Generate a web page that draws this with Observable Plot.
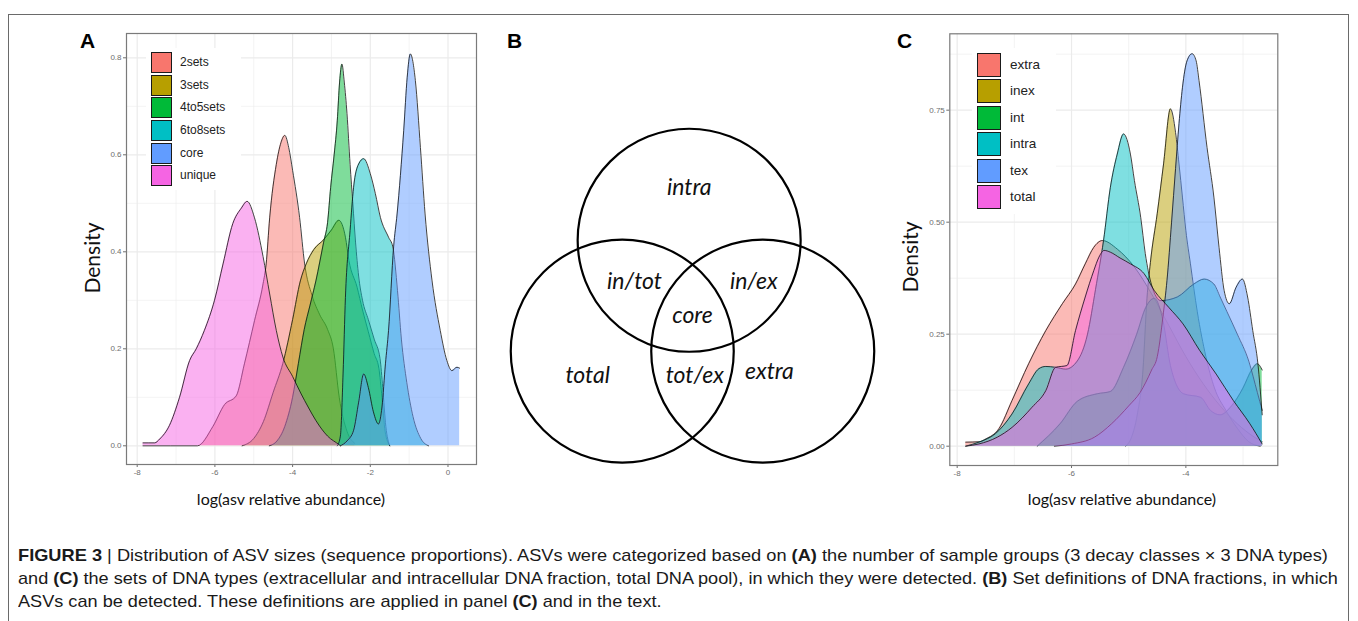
<!DOCTYPE html>
<html><head><meta charset="utf-8">
<script src="https://cdn.jsdelivr.net/npm/d3@7"></script>
<script src="https://cdn.jsdelivr.net/npm/@observablehq/plot@0.6"></script>
<style>
html,body{margin:0;padding:0;background:#fff;}
#root{position:relative;width:1358px;height:621px;overflow:hidden;background:#fff;font-family:"Liberation Sans",Arial,sans-serif;}
#frame{position:absolute;left:8px;top:14px;width:1339px;height:660px;border:1px solid #6a6a6a;}
.pl{position:absolute;}
.letter{position:absolute;font:bold 21px "Liberation Sans",Arial,sans-serif;line-height:21px;color:#000;}
.xt{position:absolute;font-family:Lato,sans-serif;color:#111;line-height:1;white-space:nowrap;transform:translate(-50%,-50%);}
.yt{position:absolute;font-family:Lato,sans-serif;color:#111;line-height:1;white-space:nowrap;transform-origin:0 0;transform:rotate(-90deg) translate(-50%,-50%);}
.legend{position:absolute;background:#fff;}
.key{position:absolute;box-sizing:border-box;border:1.2px solid #1a1a1a;}
.klab{position:absolute;white-space:nowrap;color:#222;font-family:"Liberation Sans",Arial,sans-serif;}
.cap{position:absolute;left:18px;white-space:nowrap;font-family:"Liberation Sans",Arial,sans-serif;font-size:17px;line-height:17px;color:#1a1a1a;transform-origin:0 0;}
</style></head>
<body>
<div id="root">
  <div id="frame"></div>
  <div id="plotA" class="pl" style="left:40px;top:20px"></div>
  <div id="plotB" class="pl" style="left:490px;top:20px"></div>
  <div id="plotC" class="pl" style="left:860px;top:20px"></div>
  <div class="letter" style="left:80px;top:30px">A</div>
  <div class="letter" style="left:507px;top:30px">B</div>
  <div class="letter" style="left:897px;top:30px">C</div>
  <div class="yt" style="left:91px;top:258px;font-size:21px">Density</div>
  <div class="yt" style="left:909px;top:257px;font-size:21px">Density</div>
  <div class="xt" style="left:291px;top:499px;font-size:16px">log(asv relative abundance)</div>
  <div class="xt" style="left:1122px;top:499px;font-size:16px">log(asv relative abundance)</div>
  <div id="legA" class="legend" style="left:146px;top:48px;width:95px;height:142px"></div>
  <div id="legC" class="legend" style="left:972px;top:48px;width:84px;height:166px"></div>
  <div id="cap1" class="cap" style="top:547px"><b>FIGURE 3</b> | Distribution of ASV sizes (sequence proportions). ASVs were categorized based on <b>(A)</b> the number of sample groups (3 decay classes × 3 DNA types)</div>
  <div id="cap2" class="cap" style="top:570px">and <b>(C)</b> the sets of DNA types (extracellular and intracellular DNA fraction, total DNA pool), in which they were detected. <b>(B)</b> Set definitions of DNA fractions, in which</div>
  <div id="cap3" class="cap" style="top:593px">ASVs can be detected. These definitions are applied in panel <b>(C)</b> and in the text.</div>
</div>
<script>
// ---------- data ----------
const seriesA = ["2sets", "3sets", "4to5sets", "6to8sets", "core", "unique"];
const seriesC = ["extra", "inex", "int", "intra", "tex", "total"];
const palette = ["#F8766D", "#B79F00", "#00BA38", "#00BFC4", "#619CFF", "#F564E3"];

const xTicksA = [-8, -6, -4, -2, 0];
const xMinorA = [-7, -5, -3, -1];
const yTicksA = [0, 0.2, 0.4, 0.6, 0.8];
const yMinorA = [0.1, 0.3, 0.5, 0.7];
const xTicksC = [-8, -6, -4];
const xMinorC = [-7, -5, -3];
const yTicksC = [0, 0.25, 0.5, 0.75];
const yMinorC = [0.125, 0.375, 0.625, 0.875];

// panel A densities: [log abundance, density]
const a2sets = [[-7.85,0],[-6.45,0],[-6.05,0.04],[-5.75,0.085],[-5.45,0.103],[-5.24,0.169],[-4.98,0.258],[-4.76,0.334],[-4.68,0.375],[-4.59,0.47],[-4.42,0.58],[-4.3,0.625],[-4.2,0.64],[-4.1,0.615],[-4.0,0.568],[-3.82,0.471],[-3.69,0.375],[-3.5,0.31],[-3.3,0.27],[-3.1,0.24],[-2.95,0.2],[-2.8,0.1],[-2.6,0.03],[-2.4,0.005]];
const a3sets = [[-5.3,0],[-5.0,0.015],[-4.75,0.05],[-4.5,0.11],[-4.25,0.17],[-4.0,0.26],[-3.8,0.34],[-3.65,0.375],[-3.45,0.405],[-3.2,0.425],[-3.0,0.445],[-2.81,0.465],[-2.64,0.43],[-2.55,0.382],[-2.34,0.327],[-2.2,0.28],[-2.05,0.235],[-1.9,0.19],[-1.78,0.16],[-1.7,0.1],[-1.62,0.03],[-1.5,0]];
const a4to5sets = [[-4.6,0],[-4.4,0.01],[-4.2,0.04],[-4.0,0.1],[-3.85,0.17],[-3.7,0.24],[-3.55,0.29],[-3.4,0.34],[-3.2,0.42],[-3.1,0.46],[-3.02,0.533],[-2.93,0.6],[-2.85,0.67],[-2.79,0.75],[-2.73,0.787],[-2.67,0.75],[-2.6,0.685],[-2.52,0.58],[-2.45,0.5],[-2.38,0.42],[-2.3,0.35],[-2.2,0.3],[-2.05,0.26],[-1.9,0.22],[-1.75,0.18],[-1.68,0.12],[-1.6,0.04],[-1.5,0]];
const a6to8sets = [[-2.85,0],[-2.77,0.02],[-2.7,0.15],[-2.64,0.306],[-2.52,0.444],[-2.43,0.533],[-2.3,0.581],[-2.17,0.592],[-2.0,0.561],[-1.87,0.52],[-1.74,0.471],[-1.53,0.43],[-1.42,0.41],[-1.3,0.32],[-1.2,0.22],[-1.06,0.13],[-0.9,0.06],[-0.7,0.015],[-0.5,0]];
const aCore = [[-2.77,0],[-2.6,0.01],[-2.43,0.032],[-2.3,0.09],[-2.17,0.148],[-2.05,0.12],[-1.92,0.07],[-1.79,0.045],[-1.7,0.08],[-1.61,0.169],[-1.53,0.238],[-1.4,0.41],[-1.31,0.478],[-1.14,0.65],[-1.05,0.76],[-0.97,0.808],[-0.84,0.753],[-0.71,0.615],[-0.59,0.478],[-0.41,0.34],[-0.2,0.238],[-0.03,0.176],[0.1,0.155],[0.23,0.162],[0.3,0.16]];
const aUnique = [[-7.85,0.006],[-7.55,0.006],[-7.42,0.014],[-7.17,0.042],[-6.91,0.1],[-6.65,0.176],[-6.48,0.2],[-6.27,0.238],[-6.01,0.3],[-5.79,0.375],[-5.54,0.458],[-5.32,0.49],[-5.17,0.504],[-4.98,0.47],[-4.76,0.39],[-4.59,0.313],[-4.42,0.238],[-4.25,0.183],[-4.0,0.143],[-3.78,0.107],[-3.6,0.08],[-3.4,0.052],[-3.1,0.02],[-2.8,0.002],[-2.77,0]];

// panel C densities
const cExtra = [[-7.85,0.009],[-7.6,0.01],[-7.5,0.016],[-7.27,0.039],[-7.04,0.102],[-6.75,0.184],[-6.45,0.258],[-6.16,0.318],[-5.93,0.362],[-5.76,0.407],[-5.61,0.444],[-5.46,0.459],[-5.2,0.44],[-4.9,0.4],[-4.6,0.34],[-4.3,0.27],[-4.0,0.2],[-3.7,0.14],[-3.4,0.09],[-3.1,0.05],[-2.8,0.02],[-2.665,0.01]];
const cInex = [[-5.05,0],[-4.95,0.02],[-4.85,0.07],[-4.75,0.17],[-4.68,0.33],[-4.62,0.41],[-4.5,0.52],[-4.39,0.63],[-4.27,0.753],[-4.18,0.7],[-4.12,0.63],[-4.06,0.556],[-4.0,0.481],[-3.92,0.407],[-3.8,0.3],[-3.65,0.2],[-3.5,0.13],[-3.3,0.08],[-3.1,0.04],[-2.9,0.01],[-2.7,0]];
const cInt = [[-6.6,0],[-6.2,0.05],[-5.9,0.1],[-5.55,0.117],[-5.32,0.122],[-5.09,0.176],[-4.86,0.25],[-4.7,0.31],[-4.55,0.33],[-4.4,0.28],[-4.27,0.18],[-4.04,0.117],[-3.74,0.109],[-3.57,0.08],[-3.4,0.07],[-3.2,0.09],[-3.0,0.13],[-2.85,0.17],[-2.75,0.184],[-2.665,0.17]];
const cIntra = [[-7.85,0],[-7.6,0.01],[-7.33,0.028],[-7.04,0.072],[-6.75,0.139],[-6.57,0.173],[-6.45,0.178],[-6.28,0.176],[-6.1,0.172],[-5.9,0.19],[-5.72,0.25],[-5.58,0.35],[-5.44,0.459],[-5.32,0.578],[-5.2,0.652],[-5.09,0.697],[-4.97,0.652],[-4.9,0.593],[-4.79,0.511],[-4.71,0.43],[-4.6,0.36],[-4.44,0.325],[-4.15,0.333],[-3.86,0.362],[-3.68,0.373],[-3.51,0.362],[-3.4,0.333],[-3.28,0.3],[-3.1,0.25],[-2.9,0.19],[-2.75,0.12],[-2.665,0.08]];
const cTex = [[-6.3,0],[-6.0,0.005],[-5.6,0.02],[-5.3,0.05],[-5.0,0.09],[-4.8,0.12],[-4.6,0.17],[-4.5,0.2],[-4.4,0.29],[-4.33,0.37],[-4.25,0.5],[-4.18,0.62],[-4.12,0.72],[-4.06,0.8],[-3.98,0.86],[-3.89,0.876],[-3.82,0.86],[-3.77,0.816],[-3.63,0.667],[-3.51,0.556],[-3.42,0.444],[-3.33,0.347],[-3.24,0.318],[-3.12,0.355],[-3.01,0.373],[-2.92,0.333],[-2.83,0.258],[-2.74,0.184],[-2.665,0.07]];
const cTotal = [[-7.85,0],[-7.62,0.005],[-7.3,0.02],[-7.04,0.042],[-6.69,0.087],[-6.45,0.124],[-6.28,0.176],[-6.08,0.18],[-5.93,0.258],[-5.76,0.333],[-5.61,0.392],[-5.52,0.422],[-5.43,0.437],[-5.32,0.433],[-5.15,0.42],[-4.97,0.407],[-4.73,0.385],[-4.55,0.347],[-4.3,0.31],[-4.05,0.273],[-3.76,0.214],[-3.47,0.161],[-3.17,0.102],[-2.88,0.05],[-2.665,0.005]];

// panel B: Venn sets (unit = circle radius) and region labels
const vennCircles = [{set: "intra", x: -0.03, y: 0.675}, {set: "total", x: -0.63, y: -0.32}, {set: "extra", x: 0.63, y: -0.32}];
const vennLabels = [
  {label: "intra", x: -0.03, y: 1.15},
  {label: "in/tot", x: -0.52, y: 0.3},
  {label: "in/ex", x: 0.55, y: 0.3},
  {label: "core", x: 0.0, y: 0.0},
  {label: "total", x: -0.94, y: -0.54},
  {label: "tot/ex", x: 0.02, y: -0.54},
  {label: "extra", x: 0.69, y: -0.5}
];

const dataA = [a2sets, a3sets, a4to5sets, a6to8sets, aCore, aUnique];
const dataC = [cExtra, cInex, cInt, cIntra, cTex, cTotal];

// ---------- drawing ----------
const gridColor = "#ebebeb";
function densityMarks(data) {
  const marks = [];
  data.forEach((d, i) => {
    marks.push(Plot.areaY(d, {x: p => p[0], y: p => p[1], fill: palette[i], fillOpacity: 0.5, curve: "monotone-x"}));
    marks.push(Plot.lineY(d, {x: p => p[0], y: p => p[1], stroke: "#111", strokeWidth: 0.8, curve: "monotone-x"}));
  });
  return marks;
}
function gridMarks(xMaj, xMin, yMaj, yMin) {
  return [
    Plot.ruleX(xMin, {stroke: gridColor, strokeWidth: 0.6}),
    Plot.ruleY(yMin, {stroke: gridColor, strokeWidth: 0.6}),
    Plot.ruleX(xMaj, {stroke: gridColor, strokeWidth: 1.2}),
    Plot.ruleY(yMaj, {stroke: gridColor, strokeWidth: 1.2})
  ];
}
const axisStyle = {fontSize: "8px", color: "#6e6e6e", fontFamily: "Liberation Sans, Arial, sans-serif", background: "transparent", overflow: "visible"};

const plotA = Plot.plot({
  width: 450, height: 500,
  marginLeft: 86, marginRight: 14, marginTop: 13, marginBottom: 56,
  x: {domain: [-8.2754, 0.7336], ticks: xTicksA, tickFormat: d => String(d), tickSize: 3, tickPadding: 2, label: null},
  y: {domain: [-0.03856, 0.8501], ticks: yTicksA, tickFormat: d3.format(".1f"), tickSize: 3, tickPadding: 2, label: null},
  style: axisStyle,
  marks: [
    ...gridMarks(xTicksA, xMinorA, yTicksA, yMinorA),
    ...densityMarks(dataA),
    Plot.frame({stroke: "#7a7a7a", strokeWidth: 1.2})
  ]
});
document.getElementById("plotA").appendChild(plotA);

const plotC = Plot.plot({
  width: 440, height: 500,
  marginLeft: 89.3, marginRight: 22.7, marginTop: 13.3, marginBottom: 55,
  x: {domain: [-8.129, -2.392], ticks: xTicksC, tickFormat: d => String(d), tickSize: 3, tickPadding: 2, label: null},
  y: {domain: [-0.0431, 0.9205], ticks: yTicksC, tickFormat: d3.format(".2f"), tickSize: 3, tickPadding: 2, label: null},
  style: axisStyle,
  marks: [
    ...gridMarks(xTicksC, xMinorC, yTicksC, yMinorC),
    ...densityMarks(dataC),
    Plot.frame({stroke: "#7a7a7a", strokeWidth: 1.2})
  ]
});
document.getElementById("plotC").appendChild(plotC);

const unitPx = 111.5;
const plotB = Plot.plot({
  width: 400, height: 460, margin: 0,
  x: {domain: [-202 / unitPx, 198 / unitPx], axis: null},
  y: {domain: [-165 / unitPx, 295 / unitPx], axis: null},
  style: {background: "transparent", overflow: "visible"},
  marks: [
    Plot.dot(vennCircles, {x: "x", y: "y", r: unitPx, stroke: "#000", strokeWidth: 2.2, fill: "none"}),
    Plot.text(vennLabels, {x: "x", y: "y", text: "label", fontFamily: "Lato, sans-serif", fontStyle: "italic", fontSize: 23, fill: "#111"})
  ]
});
document.getElementById("plotB").appendChild(plotB);

// legends
function buildLegend(id, names, keyLeft, keyTop, step, size, labLeft, fontSize) {
  const el = document.getElementById(id);
  const box = el.getBoundingClientRect();
  const root = document.getElementById("root").getBoundingClientRect();
  const ox = box.left - root.left, oy = box.top - root.top;
  names.forEach((name, i) => {
    const k = document.createElement("div");
    k.className = "key";
    k.style.left = (keyLeft - ox) + "px";
    k.style.top = (keyTop + i * step - oy) + "px";
    k.style.width = size + "px";
    k.style.height = size + "px";
    k.style.background = palette[i];
    el.appendChild(k);
    const t = document.createElement("div");
    t.className = "klab";
    t.textContent = name;
    t.style.left = (labLeft - ox) + "px";
    t.style.top = (keyTop + i * step - oy) + "px";
    t.style.height = size + "px";
    t.style.lineHeight = size + "px";
    t.style.fontSize = fontSize + "px";
    el.appendChild(t);
  });
}
buildLegend("legA", seriesA, 151, 52, 22.65, 21, 180, 12);
buildLegend("legC", seriesC, 977, 52.7, 26.45, 24, 1010, 13.5);

// caption fitting
function fitCaption() {
  const l1 = document.getElementById("cap1"), l2 = document.getElementById("cap2"), l3 = document.getElementById("cap3");
  [l1, l2, l3].forEach(l => l.style.transform = "none");
  const s1 = 1310 / l1.offsetWidth, s2 = 1320 / l2.offsetWidth;
  l1.style.transform = `scaleX(${s1})`;
  l2.style.transform = `scaleX(${s2})`;
  l3.style.transform = `scaleX(${s2})`;
}
fitCaption();
if (document.fonts && document.fonts.ready) document.fonts.ready.then(fitCaption);
</script>
</body></html>
